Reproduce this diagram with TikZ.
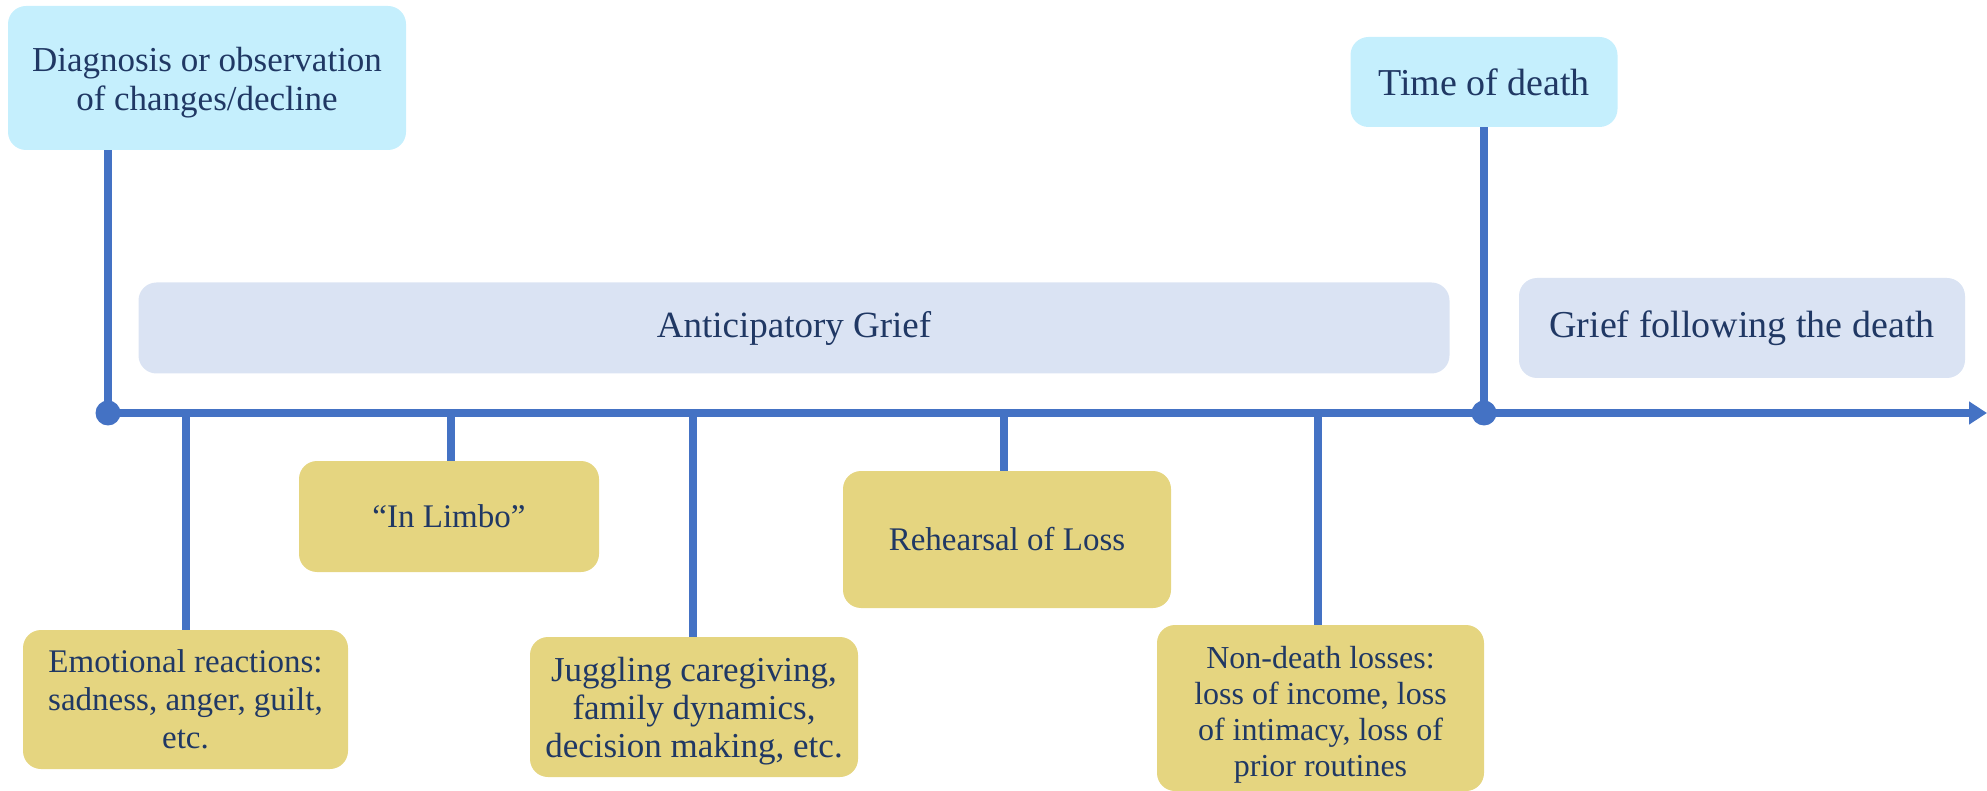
\documentclass[tikz,border=0pt]{standalone}
\usepackage{fontspec}
\setmainfont{Liberation Serif}
\usetikzlibrary{arrows.meta}
\definecolor{cyanbox}{HTML}{C5EFFD}
\definecolor{lavbox}{HTML}{DAE3F3}
\definecolor{yelbox}{HTML}{E5D580}
\definecolor{lineblue}{HTML}{4472C4}
\definecolor{txt}{HTML}{203864}
\newcommand{\lowertext}[2]{\raisebox{-#1}[\height][\depth]{\begin{tabular}{@{}c@{}}#2\end{tabular}}}
\tikzset{
  box/.style={rounded corners=18pt, draw=none, text=txt, align=center, inner sep=4pt, font=\fontsize{33}{39}\selectfont},
  topbox/.style={box, fill=cyanbox, font=\fontsize{35}{40}\selectfont},
  phasebox/.style={box, fill=lavbox, font=\fontsize{37}{42}\selectfont},
  aspbox/.style={box, fill=yelbox},
  tl/.style={draw=lineblue, line width=8pt},
  dotnode/.style={circle, fill=lineblue, minimum size=25pt, inner sep=0pt}
}
\begin{document}
\begin{tikzpicture}[x=1pt,y=-1pt]
\useasboundingbox (0,0) rectangle (1987,791);
% boxes
\node[topbox, minimum width=398pt, minimum height=144pt] (diag) at (207,78) {\lowertext{5pt}{Diagnosis or observation\\[-1pt]of changes/decline}};
\node[topbox, font=\fontsize{38}{42}\selectfont, minimum width=267pt, minimum height=90pt] (tod) at (1484,82) {Time of death};
\node[phasebox, minimum width=1311pt, minimum height=91pt] (antic) at (794,328) {Anticipatory Grief};
\node[phasebox, font=\fontsize{38}{42}\selectfont, minimum width=446pt, minimum height=100pt] (after) at (1742,328) {Grief following the death};
\node[aspbox, minimum width=325pt, minimum height=139pt] (emo) at (185.5,699.5) {\lowertext{3pt}{Emotional reactions:\\[-1pt]sadness, anger, guilt,\\[-1pt]etc.}};
\node[aspbox, minimum width=300pt, minimum height=111pt] (limbo) at (449,516.5) {``In Limbo''};
\node[aspbox, font=\fontsize{35}{40}\selectfont, minimum width=328pt, minimum height=140pt] (jug) at (694,707) {\lowertext{4pt}{Juggling caregiving,\\[-2pt]family dynamics,\\[-2pt]decision making, etc.}};
\node[aspbox, minimum width=328pt, minimum height=137pt] (reh) at (1007,539.5) {\lowertext{3pt}{Rehearsal of Loss}};
\node[aspbox, font=\fontsize{32}{38}\selectfont, minimum width=327pt, minimum height=166pt] (nd) at (1320.5,708) {\lowertext{7pt}{Non-death losses:\\[-2pt]loss of income, loss\\[-2pt]of intimacy, loss of\\[-2pt]prior routines}};
% timeline
\coordinate (tend) at (1987,413);
\node[dotnode] (d1) at (108,413) {};
\node[dotnode] (d2) at (1484,413) {};
\draw[tl] (diag.south -| d1) -- (d1.center);
\draw[tl] (tod.south) -- (d2.center);
\draw[tl, -{Triangle[length=18pt,width=22pt]}] (d1.center) -- (tend);
\foreach \b/\x in {emo/186, limbo/451, jug/693, reh/1004, nd/1318}{
  \draw[tl] (\x,413) -- (\x,0 |- \b.north);
}
\end{tikzpicture}
\end{document}
